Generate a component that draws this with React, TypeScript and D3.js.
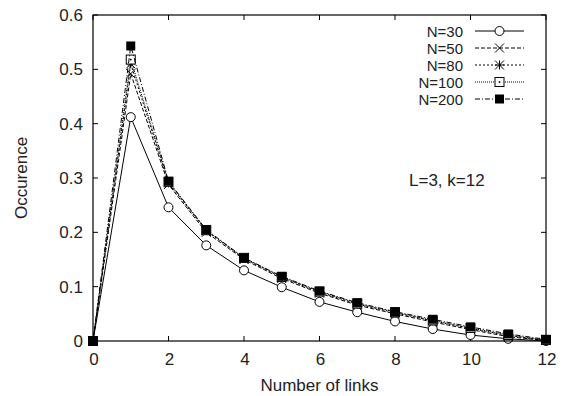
import React from "react";
import * as d3 from "d3";

const xs = [0, 1, 2, 3, 4, 5, 6, 7, 8, 9, 10, 11, 12];
const seriesNames = ["N=30", "N=50", "N=80", "N=100", "N=200"];
const n30 = [0, 0.412, 0.246, 0.176, 0.130, 0.099, 0.072, 0.053, 0.036, 0.022, 0.011, 0.004, 0.0];
const n50 = [0, 0.492, 0.288, 0.200, 0.150, 0.115, 0.088, 0.066, 0.050, 0.035, 0.021, 0.008, 0.001];
const n80 = [0, 0.510, 0.291, 0.203, 0.152, 0.117, 0.090, 0.068, 0.052, 0.037, 0.023, 0.010, 0.001];
const n100 = [0, 0.518, 0.293, 0.204, 0.153, 0.118, 0.091, 0.069, 0.053, 0.038, 0.024, 0.011, 0.002];
const n200 = [0, 0.543, 0.294, 0.205, 0.153, 0.119, 0.092, 0.0705, 0.054, 0.040, 0.026, 0.013, 0.003];
const seriesValues = [n30, n50, n80, n100, n200];
const xTicks = [0, 2, 4, 6, 8, 10, 12];
const yTicks = [0, 0.1, 0.2, 0.3, 0.4, 0.5, 0.6];
const dashes = ["none", "4,2", "2,2", "1,1", "5,2,1,2"];
const markers = ["circle", "cross", "star", "boxdot", "filled"];

const W = 565, H = 396;
const L = 93, R = 546, T = 15, B = 341;
const font = "'Liberation Sans', Arial, Helvetica, sans-serif";
const FS = 17;
const LFS = 15;

function Marker({ kind, x, y }: { kind: string; x: number; y: number }) {
  const s = 4.5;
  if (kind === "circle") return <circle cx={x} cy={y} r={s} fill="white" stroke="black" strokeWidth={1} />;
  if (kind === "cross")
    return (
      <path d={`M${x - s},${y - s}L${x + s},${y + s}M${x - s},${y + s}L${x + s},${y - s}`} stroke="black" strokeWidth={1} />
    );
  if (kind === "star")
    return (
      <path
        d={`M${x - s},${y - s}L${x + s},${y + s}M${x - s},${y + s}L${x + s},${y - s}M${x - s},${y}L${x + s},${y}M${x},${y - s}L${x},${y + s}`}
        stroke="black"
        strokeWidth={1}
      />
    );
  if (kind === "boxdot")
    return (
      <g>
        <rect x={x - s} y={y - s} width={2 * s} height={2 * s} fill="white" stroke="black" strokeWidth={1} />
        <rect x={x - 0.8} y={y - 0.8} width={1.6} height={1.6} fill="black" />
      </g>
    );
  return <rect x={x - s} y={y - s} width={2 * s} height={2 * s} fill="black" />;
}

export default function App() {
  const x = d3.scaleLinear().domain([0, 12]).range([L, R]);
  const y = d3.scaleLinear().domain([0, 0.6]).range([B, T]);
  const line = d3
    .line<number>()
    .x((_, i) => x(xs[i]))
    .y((d) => y(d));
  const legendX = 463;
  const legendY0 = 31;
  const legendDy = 17;
  return (
    <svg width={W} height={H} style={{ position: "absolute", left: 0, top: 0, background: "white" }} fontFamily={font}>
      <rect x={0} y={0} width={W} height={H} fill="white" />
      {xTicks.map((t) => (
        <g key={"xt" + t}>
          <line x1={x(t)} x2={x(t)} y1={B} y2={B - 5} stroke="black" />
          <line x1={x(t)} x2={x(t)} y1={T} y2={T + 5} stroke="black" />
          <text x={x(t) + 1} y={B + 24} textAnchor="middle" fontSize={FS} fill="#222">
            {t}
          </text>
        </g>
      ))}
      {yTicks.map((t) => (
        <g key={"yt" + t}>
          <line x1={L} x2={L + 5} y1={y(t)} y2={y(t)} stroke="black" />
          <line x1={R} x2={R - 5} y1={y(t)} y2={y(t)} stroke="black" />
          <text x={L - 10} y={y(t) + 6} textAnchor="end" fontSize={FS} fill="#222">
            {t === 0 ? "0" : t.toFixed(1)}
          </text>
        </g>
      ))}
      {seriesValues.map((vals, si) => (
        <g key={"s" + si}>
          <path d={line(vals) || ""} fill="none" stroke="black" strokeWidth={1} strokeDasharray={dashes[si]} />
          {vals.map((v, i) => (
            <Marker key={i} kind={markers[si]} x={x(xs[i])} y={y(v)} />
          ))}
        </g>
      ))}
      <rect x={L} y={T} width={R - L} height={B - T} fill="none" stroke="black" strokeWidth={1.2} />
      {seriesNames.map((name, si) => {
        const ly = legendY0 + si * legendDy;
        return (
          <g key={"lg" + si}>
            <text x={legendX} y={ly + 5.5} textAnchor="end" fontSize={LFS} fill="#222">
              {name}
            </text>
            <line x1={475} x2={524} y1={ly} y2={ly} stroke="black" strokeWidth={1} strokeDasharray={dashes[si]} />
            <Marker kind={markers[si]} x={499.5} y={ly} />
          </g>
        );
      })}
      <text x={409} y={186} fontSize={FS} fill="#222">
        L=3, k=12
      </text>
      <text x={(L + R) / 2} y={391} textAnchor="middle" fontSize={FS} fill="#222">
        Number of links
      </text>
      <text transform={`translate(27,${(T + B) / 2}) rotate(-90)`} textAnchor="middle" fontSize={FS} fill="#222">
        Occurence
      </text>
    </svg>
  );
}
